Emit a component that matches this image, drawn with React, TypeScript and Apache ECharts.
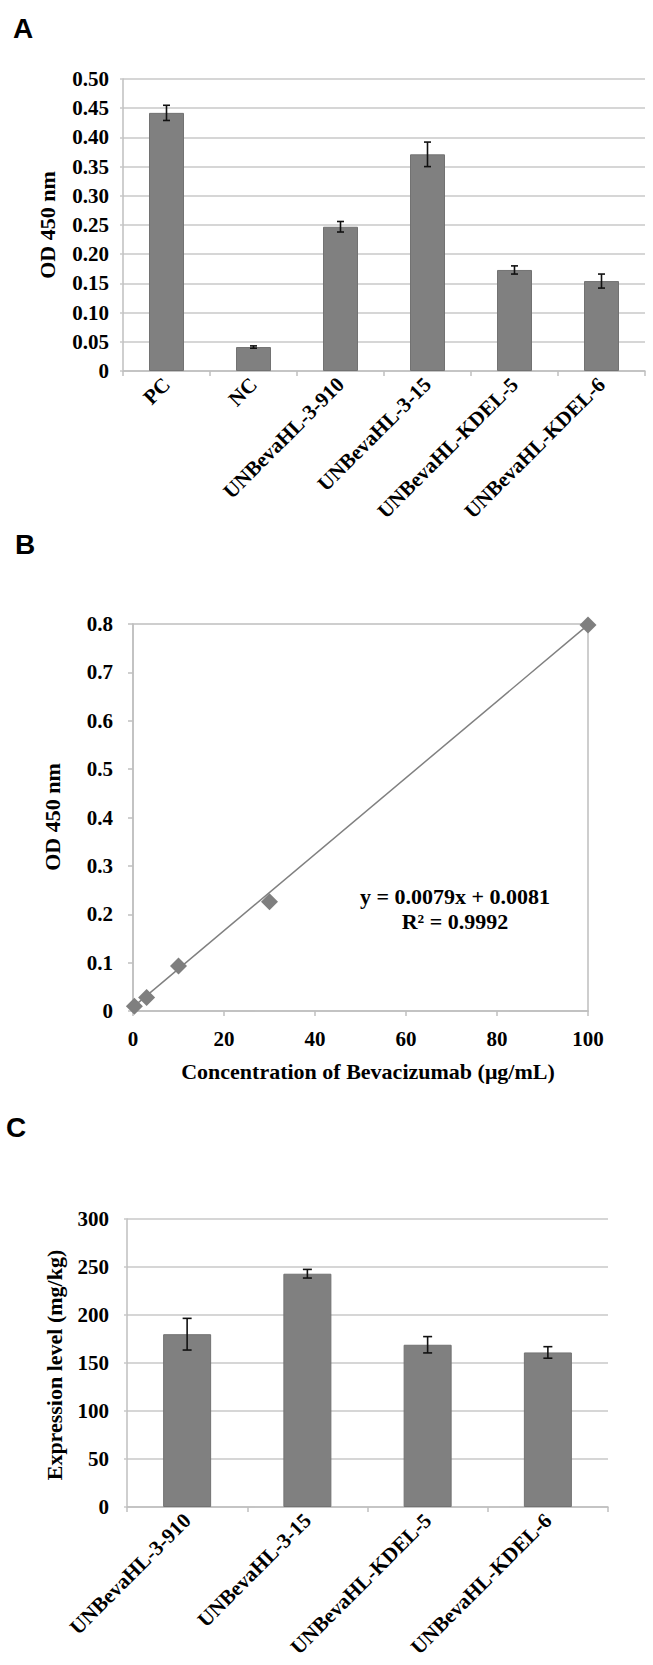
import React, { useEffect, useRef } from "react";
import * as echarts from "echarts";

// Panel A
const catsA = ["PC", "NC", "UNBevaHL-3-910", "UNBevaHL-3-15", "UNBevaHL-KDEL-5", "UNBevaHL-KDEL-6"];
const valsA = [0.442, 0.041, 0.247, 0.371, 0.173, 0.154];
const errA = [0.013, 0.002, 0.009, 0.021, 0.007, 0.012];

// Panel B
const concB = [0.3, 3, 10, 30, 100];
const odB = [0.01, 0.028, 0.093, 0.226, 0.798];
const trendX = [0, 100];
const trendY = [0.0081, 0.7981];

// Panel C
const catsC = ["UNBevaHL-3-910", "UNBevaHL-3-15", "UNBevaHL-KDEL-5", "UNBevaHL-KDEL-6"];
const valsC = [180, 243, 169, 161];
const errC = [16.5, 4.5, 8.5, 6];

const SERIF = '"Liberation Serif", "Times New Roman", serif';
const SANS = '"Liberation Sans", Arial, sans-serif';
const AX = "#bfbfbf";
const GRIDC = "#c8c8c8";

const lbl = (extra: any = {}) => ({
  color: "#000",
  fontFamily: SERIF,
  fontWeight: "bold",
  fontSize: 21,
  ...extra,
});

const makeErr = (w: number) => (params: any, api: any) => {
  const x = api.value(0);
  const v = api.value(1);
  const e = api.value(2);
  const hi = api.coord([x, v + e]);
  const lo = api.coord([x, v - e]);
  const st = { stroke: "#111", lineWidth: 1.6 };
  return {
    type: "group",
    children: [
      { type: "line", shape: { x1: hi[0], y1: hi[1], x2: lo[0], y2: lo[1] }, style: st },
      { type: "line", shape: { x1: hi[0] - w, y1: hi[1], x2: hi[0] + w, y2: hi[1] }, style: st },
      { type: "line", shape: { x1: lo[0] - w, y1: lo[1], x2: lo[0] + w, y2: lo[1] }, style: st },
    ],
  };
};

const txt = (text: string, x: number, y: number, font: string, rot = 0, align = "center") => ({
  type: "text",
  x,
  y,
  rotation: rot,
  style: { text, font, fill: "#000", align, verticalAlign: "middle" },
});

export default function App() {
  const ref = useRef<HTMLDivElement>(null);
  useEffect(() => {
    document.body.style.margin = "0";
    const chart = echarts.init(ref.current!, null, { renderer: "svg" });
    const catAxisBase = {
      type: "category",
      axisLine: { lineStyle: { color: AX, width: 1.5 } },
      axisTick: { show: true, length: 5, lineStyle: { color: AX, width: 1.5 } },
      splitLine: { show: false },
    };
    const option: any = {
      animation: false,
      backgroundColor: "#fff",
      grid: [
        { left: 123, top: 79, width: 522, height: 292 },
        { left: 133, top: 624, width: 455, height: 387, show: true, borderColor: AX, borderWidth: 1.5 },
        { left: 127, top: 1219, width: 481, height: 288 },
      ],
      xAxis: [
        {
          ...catAxisBase,
          gridIndex: 0,
          data: catsA,
          axisLabel: lbl({ rotate: 45, interval: 0, margin: 10 }),
        },
        {
          gridIndex: 1,
          type: "value",
          min: 0,
          max: 100,
          interval: 20,
          axisLine: { show: true, lineStyle: { color: AX, width: 1.5 } },
          axisTick: { show: true, length: 5, lineStyle: { color: AX, width: 1.5 } },
          splitLine: { show: false },
          axisLabel: lbl({ margin: 17 }),
        },
        {
          ...catAxisBase,
          gridIndex: 2,
          data: catsC,
          axisLabel: lbl({ rotate: 45, interval: 0, margin: 10 }),
        },
      ],
      yAxis: [
        {
          gridIndex: 0,
          type: "value",
          min: 0,
          max: 0.5,
          interval: 0.05,
          axisLine: { show: true, lineStyle: { color: AX, width: 1.5 } },
          axisTick: { show: true, length: 3, lineStyle: { color: GRIDC, width: 1.5 } },
          splitLine: { show: true, lineStyle: { color: GRIDC, width: 1.5 } },
          axisLabel: lbl({ margin: 14, formatter: (v: number) => (v === 0 ? "0" : v.toFixed(2)) }),
        },
        {
          gridIndex: 1,
          type: "value",
          min: 0,
          max: 0.8,
          interval: 0.1,
          axisLine: { show: true, lineStyle: { color: AX, width: 1.5 } },
          axisTick: { show: true, length: 5, lineStyle: { color: AX, width: 1.5 } },
          splitLine: { show: false },
          axisLabel: lbl({ margin: 20, formatter: (v: number) => (v === 0 ? "0" : v.toFixed(1)) }),
        },
        {
          gridIndex: 2,
          type: "value",
          min: 0,
          max: 300,
          interval: 50,
          axisLine: { show: true, lineStyle: { color: AX, width: 1.5 } },
          axisTick: { show: true, length: 3, lineStyle: { color: GRIDC, width: 1.5 } },
          splitLine: { show: true, lineStyle: { color: GRIDC, width: 1.5 } },
          axisLabel: lbl({ margin: 18 }),
        },
      ],
      series: [
        {
          type: "bar",
          xAxisIndex: 0,
          yAxisIndex: 0,
          data: valsA,
          barWidth: 35,
          itemStyle: { color: "#808080", borderColor: "#727272", borderWidth: 1 },
        },
        {
          type: "custom",
          xAxisIndex: 0,
          yAxisIndex: 0,
          renderItem: makeErr(3.5),
          data: valsA.map((v, i) => [i, v, errA[i]]),
          z: 5,
        },
        {
          type: "line",
          xAxisIndex: 1,
          yAxisIndex: 1,
          data: trendX.map((x, i) => [x, trendY[i]]),
          showSymbol: false,
          symbol: "none",
          lineStyle: { color: "#808080", width: 1.5 },
          z: 2,
        },
        {
          type: "scatter",
          xAxisIndex: 1,
          yAxisIndex: 1,
          data: concB.map((x, i) => [x, odB[i]]),
          symbol: "diamond",
          symbolSize: [17, 17],
          itemStyle: { color: "#7f7f7f", opacity: 1 },
          z: 3,
        },
        {
          type: "bar",
          xAxisIndex: 2,
          yAxisIndex: 2,
          data: valsC,
          barWidth: 48,
          itemStyle: { color: "#808080", borderColor: "#727272", borderWidth: 1 },
        },
        {
          type: "custom",
          xAxisIndex: 2,
          yAxisIndex: 2,
          renderItem: makeErr(4.5),
          data: valsC.map((v, i) => [i, v, errC[i]]),
          z: 5,
        },
      ],
      graphic: [
        txt("A", 13, 28, `bold 28px ${SANS}`, 0, "left"),
        txt("B", 15, 544, `bold 28px ${SANS}`, 0, "left"),
        txt("C", 6, 1127, `bold 28px ${SANS}`, 0, "left"),
        txt("OD 450 nm", 47, 225, `bold 22px ${SERIF}`, Math.PI / 2),
        txt("OD 450 nm", 52, 817, `bold 22px ${SERIF}`, Math.PI / 2),
        txt("Concentration of Bevacizumab (μg/mL)", 368, 1071, `bold 22px ${SERIF}`),
        txt("y = 0.0079x + 0.0081", 455, 896, `bold 22px ${SERIF}`),
        txt("R² = 0.9992", 455, 921, `bold 22px ${SERIF}`),
        txt("Expression level (mg/kg)", 54, 1365, `bold 22px ${SERIF}`, Math.PI / 2),
      ],
    };
    chart.setOption(option);
    return () => chart.dispose();
  }, []);
  return <div ref={ref} style={{ width: 653, height: 1665 }} />;
}
